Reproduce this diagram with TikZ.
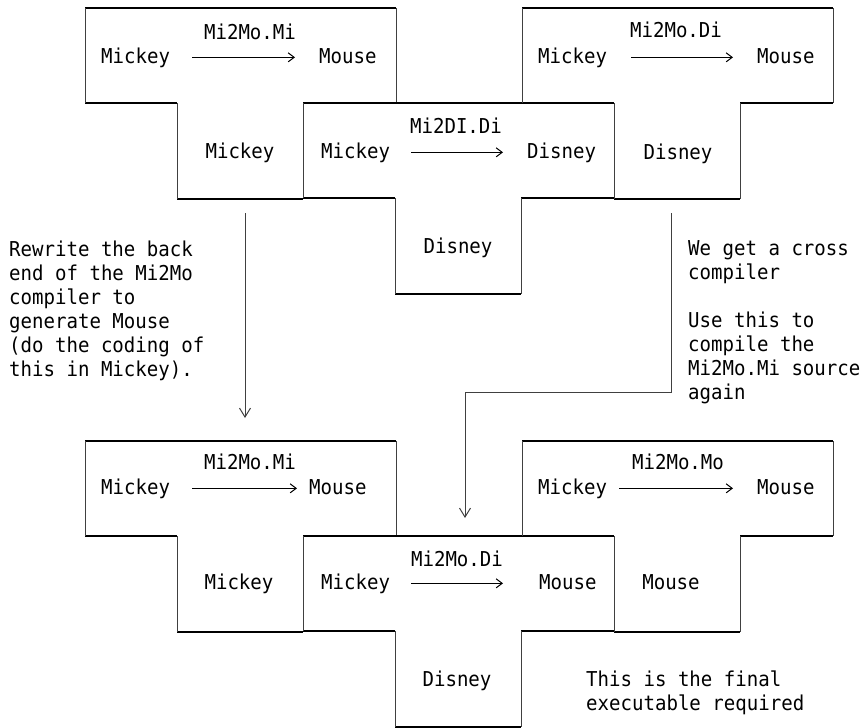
\documentclass[tikz,border=0pt]{standalone}
\usepackage{fontspec}
\usepackage{tikz}
\usepackage{xcolor}
\usetikzlibrary{arrows.meta}
\newfontfamily\tfont[FakeStretch=0.93]{DejaVu Sans Mono}

\tikzset{
  hline/.style={black, line width=1.2pt},
  vline/.style={black!75, line width=0.8pt},
  lbl/.style={inner sep=0pt, font=\tfont\fontsize{20.5}{24}\selectfont},
  note/.style={lbl, align=left},
  trans/.style={black, line width=1pt, -{Straight Barb[length=6pt,width=9pt,line width=1pt]}},
  flow/.style={black!75, line width=0.9pt, -{Straight Barb[length=9pt,width=11pt,line width=1pt]}}
}

% T outline, head corner at (#1,#2)
\newcommand{\tshape}[2]{%
  \draw[hline] (#1,#2) -- ++(311,0)
    (#1,#2+95) -- ++(92,0) (#1+218,#2+95) -- ++(93,0)
    (#1+92,#2+191) -- ++(126,0);
  \draw[vline] (#1,#2) -- ++(0,95) (#1+311,#2) -- ++(0,95)
    (#1+92,#2+95) -- ++(0,96) (#1+218,#2+95) -- ++(0,96);
}

\begin{document}
\begin{tikzpicture}[x=1pt,y=-1pt]
  \useasboundingbox (0,0) rectangle (865,728);

  \tshape{85}{8}
  \tshape{303}{103}
  \tshape{522}{8}
  \tshape{85}{441}
  \tshape{303}{536}
  \tshape{522}{441}

  % top row
  \node[lbl,anchor=base] (t1trans) at (250,39) {Mi2Mo.Mi};
  \node[lbl,anchor=base west] (t1src) at (101,63) {Mickey};
  \node[lbl,anchor=base west] (t1tgt) at (319,63) {Mouse};
  \node[lbl,anchor=base] (t1impl) at (240,158) {Mickey};
  \draw[trans,shorten <=22pt,shorten >=24pt] (t1src.east) -- (t1src.east -| t1tgt.west);

  \node[lbl,anchor=base] (t2trans) at (456,133) {Mi2DI.Di};
  \node[lbl,anchor=base west] (t2src) at (321,158) {Mickey};
  \node[lbl,anchor=base west] (t2tgt) at (527,158) {Disney};
  \node[lbl,anchor=base] (t2impl) at (458,253) {Disney};
  \draw[trans,shorten <=21pt,shorten >=24pt] (t2src.east) -- (t2src.east -| t2tgt.west);

  \node[lbl,anchor=base] (t3trans) at (676,37) {Mi2Mo.Di};
  \node[lbl,anchor=base west] (t3src) at (538,63) {Mickey};
  \node[lbl,anchor=base west] (t3tgt) at (757,63) {Mouse};
  \node[lbl,anchor=base] (t3impl) at (678,159) {Disney};
  \draw[trans,shorten <=24pt,shorten >=24pt] (t3src.east) -- (t3src.east -| t3tgt.west);

  % bottom row
  \node[lbl,anchor=base] (t4trans) at (250,469) {Mi2Mo.Mi};
  \node[lbl,anchor=base west] (t4src) at (101,494) {Mickey};
  \node[lbl,anchor=base west] (t4tgt) at (309,494) {Mouse};
  \node[lbl,anchor=base] (t4impl) at (239,589) {Mickey};
  \draw[trans,shorten <=22pt,shorten >=12pt] (t4src.east) -- (t4src.east -| t4tgt.west);

  \node[lbl,anchor=base] (t5trans) at (457,566) {Mi2Mo.Di};
  \node[lbl,anchor=base west] (t5src) at (321,589) {Mickey};
  \node[lbl,anchor=base west] (t5tgt) at (539,589) {Mouse};
  \node[lbl,anchor=base] (t5impl) at (457,686) {Disney};
  \draw[trans,shorten <=21pt,shorten >=36pt] (t5src.east) -- (t5src.east -| t5tgt.west);

  \node[lbl,anchor=base] (t6trans) at (678,469) {Mi2Mo.Mo};
  \node[lbl,anchor=base west] (t6src) at (538,494) {Mickey};
  \node[lbl,anchor=base west] (t6tgt) at (757,494) {Mouse};
  \node[lbl,anchor=base] (t6impl) at (671,589) {Mouse};
  \draw[trans,shorten <=12pt,shorten >=24pt] (t6src.east) -- (t6src.east -| t6tgt.west);

  % notes and steps (base = last line)
  \node[note,anchor=base west] (n1) at (9,376) {Rewrite the back\\end of the Mi2Mo\\compiler to\\generate Mouse\\(do the coding of\\this in Mickey).};
  \node[note,anchor=base west] (n2) at (688,399) {We get a cross\\compiler\\[24pt]Use this to\\compile the\\Mi2Mo.Mi source\\again};
  \node[note,anchor=base west] (n3) at (586,710) {This is the final\\executable required};

  \coordinate (d1) at (245,213);
  \coordinate (d2) at (245,418);
  \draw[flow] (d1) -- (d2);
  \coordinate (c1) at (671,213);
  \coordinate (c2) at (465,518);
  \draw[flow] (c1) -- ++(0,179) -| (c2);
\end{tikzpicture}
\end{document}
